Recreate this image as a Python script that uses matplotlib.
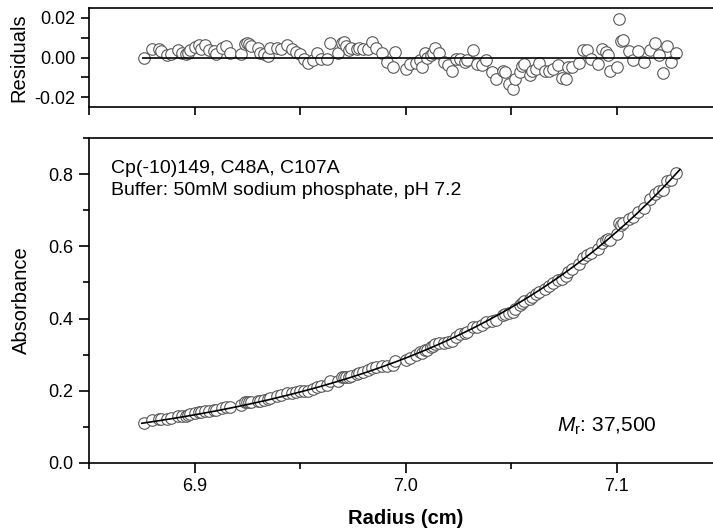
import matplotlib
matplotlib.use('Agg')
import matplotlib.pyplot as plt
from matplotlib.ticker import MultipleLocator, FixedFormatter, FixedLocator

plt.rcParams['font.family'] = ['Liberation Sans', 'DejaVu Sans']
plt.rcParams['mathtext.fontset'] = 'custom'
plt.rcParams['mathtext.rm'] = 'Liberation Sans'
plt.rcParams['mathtext.it'] = 'Liberation Sans:italic'

# measured scan (radius in cm) with absorbance and fit residuals
radius = [6.876, 6.880, 6.883, 6.884, 6.887, 6.889, 6.892, 6.894, 6.896, 6.897,
          6.898, 6.900, 6.902, 6.903, 6.905, 6.907, 6.909, 6.910, 6.913, 6.915,
          6.917, 6.922, 6.924, 6.925, 6.926, 6.927, 6.930, 6.931, 6.933, 6.935,
          6.936, 6.939, 6.941, 6.944, 6.946, 6.948, 6.950, 6.952, 6.954, 6.956,
          6.958, 6.960, 6.963, 6.964, 6.968, 6.970, 6.971, 6.972, 6.973, 6.974,
          6.977, 6.978, 6.980, 6.982, 6.984, 6.986, 6.989, 6.991, 6.994, 6.995,
          7.000, 7.002, 7.005, 7.007, 7.008, 7.009, 7.010, 7.012, 7.013, 7.014,
          7.016, 7.018, 7.020, 7.022, 7.024, 7.026, 7.028, 7.029, 7.032, 7.034,
          7.036, 7.038, 7.041, 7.043, 7.046, 7.047, 7.049, 7.051, 7.052, 7.054,
          7.055, 7.056, 7.059, 7.060, 7.062, 7.063, 7.066, 7.068, 7.070, 7.072,
          7.074, 7.076, 7.077, 7.079, 7.082, 7.084, 7.086, 7.088, 7.091, 7.093,
          7.095, 7.096, 7.097, 7.100, 7.101, 7.102, 7.103, 7.106, 7.108, 7.110,
          7.113, 7.116, 7.118, 7.120, 7.122, 7.124, 7.126, 7.128]

absorbance = [0.111, 0.119, 0.121, 0.121, 0.122, 0.124, 0.129, 0.130, 0.131, 0.132,
              0.135, 0.139, 0.142, 0.141, 0.145, 0.145, 0.147, 0.146, 0.152, 0.155,
              0.154, 0.160, 0.168, 0.169, 0.170, 0.170, 0.173, 0.172, 0.174, 0.176,
              0.181, 0.185, 0.188, 0.194, 0.195, 0.197, 0.198, 0.199, 0.200, 0.205,
              0.211, 0.212, 0.217, 0.227, 0.228, 0.237, 0.239, 0.239, 0.239, 0.242,
              0.247, 0.249, 0.253, 0.257, 0.264, 0.265, 0.269, 0.268, 0.272, 0.282,
              0.285, 0.292, 0.299, 0.306, 0.305, 0.314, 0.314, 0.320, 0.324, 0.329,
              0.332, 0.332, 0.336, 0.339, 0.350, 0.356, 0.360, 0.364, 0.377, 0.376,
              0.382, 0.390, 0.394, 0.397, 0.411, 0.413, 0.414, 0.418, 0.427, 0.437,
              0.443, 0.448, 0.454, 0.459, 0.468, 0.474, 0.482, 0.490, 0.499, 0.508,
              0.510, 0.518, 0.528, 0.537, 0.552, 0.567, 0.576, 0.581, 0.593, 0.610,
              0.618, 0.621, 0.618, 0.635, 0.665, 0.659, 0.665, 0.675, 0.681, 0.696,
              0.707, 0.731, 0.746, 0.752, 0.755, 0.780, 0.785, 0.802]

residuals = [0.0000, 0.0042, 0.0042, 0.0035, 0.0012, 0.0016, 0.0038, 0.0024, 0.0016, 0.0021,
             0.0038, 0.0052, 0.0064, 0.0042, 0.0064, 0.0038, 0.0035, 0.0016, 0.0047, 0.0056,
             0.0021, 0.0016, 0.0070, 0.0073, 0.0070, 0.0056, 0.0050, 0.0021, 0.0016, 0.0007,
             0.0047, 0.0047, 0.0042, 0.0064, 0.0042, 0.0030, 0.0016, -0.0005, -0.0028, -0.0010,
             0.0021, -0.0005, -0.0005, 0.0073, 0.0021, 0.0073, 0.0077, 0.0056, 0.0038, 0.0047,
             0.0042, 0.0047, 0.0042, 0.0042, 0.0077, 0.0050, 0.0024, -0.0023, -0.0049, 0.0030,
             -0.0057, -0.0031, -0.0028, -0.0014, -0.0049, 0.0021, 0.0000, 0.0012, 0.0021, 0.0047,
             0.0021, -0.0023, -0.0040, -0.0066, -0.0005, -0.0005, -0.0023, -0.0010, 0.0038, -0.0031,
             -0.0040, -0.0014, -0.0075, -0.0110, -0.0066, -0.0075, -0.0136, -0.0157, -0.0110, -0.0075,
             -0.0045, -0.0035, -0.0087, -0.0066, -0.0057, -0.0028, -0.0066, -0.0066, -0.0057, -0.0040,
             -0.0101, -0.0110, -0.0049, -0.0049, -0.0028, 0.0038, 0.0038, -0.0005, -0.0031, 0.0042,
             0.0030, 0.0012, -0.0066, -0.0049, 0.0195, 0.0082, 0.0090, 0.0035, -0.0014, 0.0035,
             -0.0023, 0.0038, 0.0073, 0.0012, -0.0078, 0.0056, -0.0023, 0.0021]

# fitted curve
fit_r = [6.875, 6.880, 6.885, 6.890, 6.895, 6.900, 6.905, 6.910, 6.915, 6.920,
         6.925, 6.930, 6.935, 6.940, 6.945, 6.950, 6.955, 6.960, 6.965, 6.970,
         6.975, 6.980, 6.985, 6.990, 6.995, 7.000, 7.005, 7.010, 7.015, 7.020,
         7.025, 7.030, 7.035, 7.040, 7.045, 7.050, 7.055, 7.060, 7.065, 7.070,
         7.075, 7.080, 7.085, 7.090, 7.095, 7.100, 7.105, 7.110, 7.115, 7.120,
         7.125, 7.130]
fit_a = [0.1100, 0.1143, 0.1188, 0.1235, 0.1283, 0.1334, 0.1387, 0.1441, 0.1498, 0.1557,
         0.1619, 0.1683, 0.1749, 0.1819, 0.1891, 0.1966, 0.2044, 0.2125, 0.2210, 0.2298,
         0.2389, 0.2484, 0.2583, 0.2686, 0.2794, 0.2905, 0.3022, 0.3142, 0.3268, 0.3399,
         0.3536, 0.3677, 0.3825, 0.3979, 0.4139, 0.4306, 0.4479, 0.4660, 0.4848, 0.5044,
         0.5247, 0.5459, 0.5680, 0.5910, 0.6150, 0.6400, 0.6659, 0.6929, 0.7211, 0.7504,
         0.7809, 0.8127]

xmin, xmax = 6.85, 7.15

fig = plt.figure(figsize=(7.13, 5.29), dpi=100)
ax_res = fig.add_axes([0.1248, 0.7977, 0.888, 0.1871])
ax_abs = fig.add_axes([0.1248, 0.1248, 0.888, 0.6143])

mk = dict(linestyle='none', marker='o', markersize=8.3, markerfacecolor='white',
          markeredgecolor='#585858', markeredgewidth=0.8)

for ax in (ax_res, ax_abs):
    ax.spines['right'].set_visible(False)
    for s in ('left', 'bottom', 'top'):
        ax.spines[s].set_linewidth(1.2)
    ax.set_xlim(xmin, xmax)
    ax.xaxis.set_major_locator(MultipleLocator(0.1))
    ax.xaxis.set_minor_locator(MultipleLocator(0.05))
    ax.tick_params(which='both', direction='out', width=1.2, labelsize=13, pad=4)

# residuals panel
ax_res.plot(radius, residuals, **mk)
ax_res.hlines(0, fit_r[0], fit_r[-1], color='black', lw=1.2)
ax_res.set_ylim(-0.025, 0.025)
ax_res.yaxis.set_major_locator(FixedLocator([-0.02, 0.0, 0.02]))
ax_res.yaxis.set_major_formatter(FixedFormatter(['-0.02', '0.00', '0.02']))
ax_res.yaxis.set_minor_locator(FixedLocator([-0.01, 0.01]))
ax_res.tick_params(axis='x', which='both', length=6, labelbottom=False)
ax_res.tick_params(axis='y', which='both', length=6)
ax_res.set_ylabel('Residuals', fontsize=14.5, labelpad=4)

# absorbance panel
ax_abs.plot(radius, absorbance, **mk, zorder=2)
ax_abs.plot(fit_r, fit_a, color='black', lw=1.2, zorder=3)
ax_abs.set_ylim(0, 0.9)
ax_abs.yaxis.set_major_locator(MultipleLocator(0.2))
ax_abs.yaxis.set_major_formatter(matplotlib.ticker.FormatStrFormatter('%.1f'))
ax_abs.yaxis.set_minor_locator(MultipleLocator(0.1))
ax_abs.tick_params(which='major', length=7)
ax_abs.tick_params(which='minor', length=4)
ax_abs.set_ylabel('Absorbance', fontsize=14.5, labelpad=13)
ax_abs.set_xlabel('Radius (cm)', fontsize=14.5, fontweight='bold', labelpad=10)

ax_abs.text(0.035, 0.892, 'Cp(-10)149, C48A, C107A', transform=ax_abs.transAxes, fontsize=14)
ax_abs.text(0.035, 0.825, 'Buffer: 50mM sodium phosphate, pH 7.2', transform=ax_abs.transAxes,
            fontsize=14)
ax_abs.text(0.739, 0.095, r'$\mathit{M}_{\mathrm{r}}$: 37,500', transform=ax_abs.transAxes,
            fontsize=15)

fig.savefig('out.png', dpi=100)
